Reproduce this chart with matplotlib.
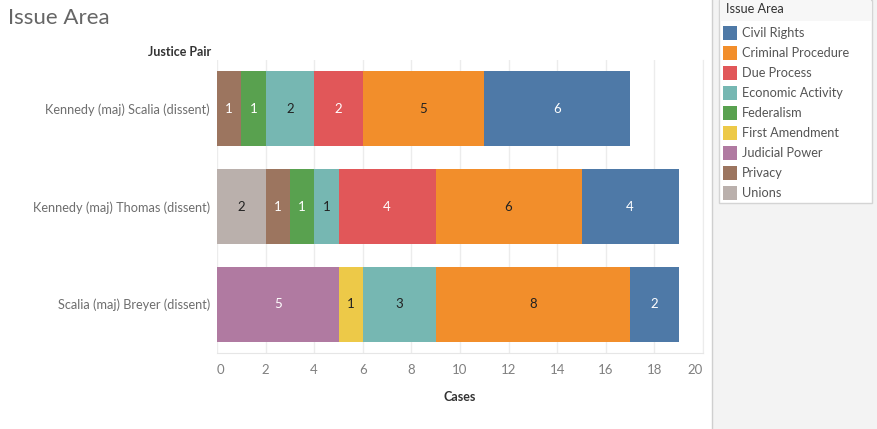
import numpy as np
import matplotlib.pyplot as plt
from matplotlib.patches import Rectangle

plt.rcParams['font.family'] = ['Lato', 'DejaVu Sans']

# Data
pairs = ["Kennedy (maj) Scalia (dissent)",
         "Kennedy (maj) Thomas (dissent)",
         "Scalia (maj) Breyer (dissent)"]
issues = ["Civil Rights", "Criminal Procedure", "Due Process", "Economic Activity",
          "Federalism", "First Amendment", "Judicial Power", "Privacy", "Unions"]
colors = ["#4e79a7", "#f28e2b", "#e15759", "#76b7b2",
          "#59a14f", "#edc948", "#b07aa1", "#9c755f", "#bab0ac"]
# cases per issue (same order as issues) for each pair
cases = {
    "Kennedy (maj) Scalia (dissent)": [6, 5, 2, 2, 1, 0, 0, 1, 0],
    "Kennedy (maj) Thomas (dissent)": [4, 6, 4, 1, 1, 0, 0, 1, 2],
    "Scalia (maj) Breyer (dissent)":  [2, 8, 0, 3, 0, 1, 5, 0, 0],
}
dark_text = {"Economic Activity", "Criminal Procedure", "Unions", "First Amendment"}

W, H = 877, 429
fig = plt.figure(figsize=(W / 100, H / 100), dpi=100)

# right-hand gray panel with legend
fig.patches.append(Rectangle((712 / W, 0), 1 - 712 / W, 1, transform=fig.transFigure,
                             facecolor="#f3f3f3", edgecolor="none", zorder=0))
fig.lines.append(plt.Line2D([712 / W, 712 / W], [0, 1], transform=fig.transFigure,
                            color="#cfcfcf", lw=1))
fig.patches.append(Rectangle((719 / W, 1 - 203 / H), 153 / W, 203 / H, transform=fig.transFigure,
                             facecolor="white", edgecolor="#d4d4d4", lw=1, zorder=1))
fig.patches.append(Rectangle((720 / W, 1 - 21 / H), 151 / W, 21 / H, transform=fig.transFigure,
                             facecolor="#f7f7f7", edgecolor="none", zorder=1))
fig.text(726 / W, 1 - 9 / H, "Issue Area", fontsize=9.2, color="#333333", va="center", zorder=3)
for i, (name, c) in enumerate(zip(issues, colors)):
    yc = 33 + i * 20
    fig.patches.append(Rectangle((723 / W, 1 - (yc + 7) / H), 14 / W, 14 / H,
                                 transform=fig.transFigure, facecolor=c, edgecolor="none", zorder=2))
    fig.text(742 / W, 1 - yc / H, name, fontsize=9.2, color="#555555", va="center", zorder=3)

# main chart
ax = fig.add_axes([217 / W, 1 - 353 / H, (703 - 217) / W, (353 - 60) / H])
y = np.arange(len(pairs))
order = list(range(len(issues)))[::-1]  # stack from Unions ... to Civil Rights
for row, pair in enumerate(pairs):
    left = 0
    for k in order:
        v = cases[pair][k]
        if v == 0:
            continue
        ax.barh(row, v, left=left, height=0.765, color=colors[k], zorder=2)
        ax.text(left + v / 2, row, str(v), ha="center", va="center", fontsize=9.5,
                color="#222222" if issues[k] in dark_text else "white", zorder=3)
        left += v

ax.set_xlim(0, 20)
ax.set_ylim(2.5, -0.5)
ax.set_xticks(np.arange(0, 21, 2))
ax.set_yticks(y)
ax.set_yticklabels(pairs)
ax.grid(axis="x", color="#ececec", lw=1, zorder=0)
for s in ["top", "left"]:
    ax.spines[s].set_visible(False)
ax.spines["bottom"].set_color("#e6e6e6")
ax.spines["right"].set_color("#ececec")
ax.tick_params(axis="both", length=0, labelsize=9.5, colors="#808080")
ax.tick_params(axis="x", pad=8)
ax.tick_params(axis="y", pad=5, labelsize=9.2, labelcolor="#6e6e6e")
xt = ax.get_xticklabels()
xt[0].set_ha("left")
xt[-1].set_ha("right")
ax.set_xlabel("Cases", fontsize=9, color="#333333", fontweight="bold", labelpad=11)

fig.text(8 / W, 1 - 18 / H, "Issue Area", fontsize=16, color="#666666", va="center")
fig.text(211 / W, 1 - 52 / H, "Justice Pair", fontsize=9, color="#333333", va="center",
         ha="right", fontweight="bold")

fig.savefig("out.png", dpi=100)
